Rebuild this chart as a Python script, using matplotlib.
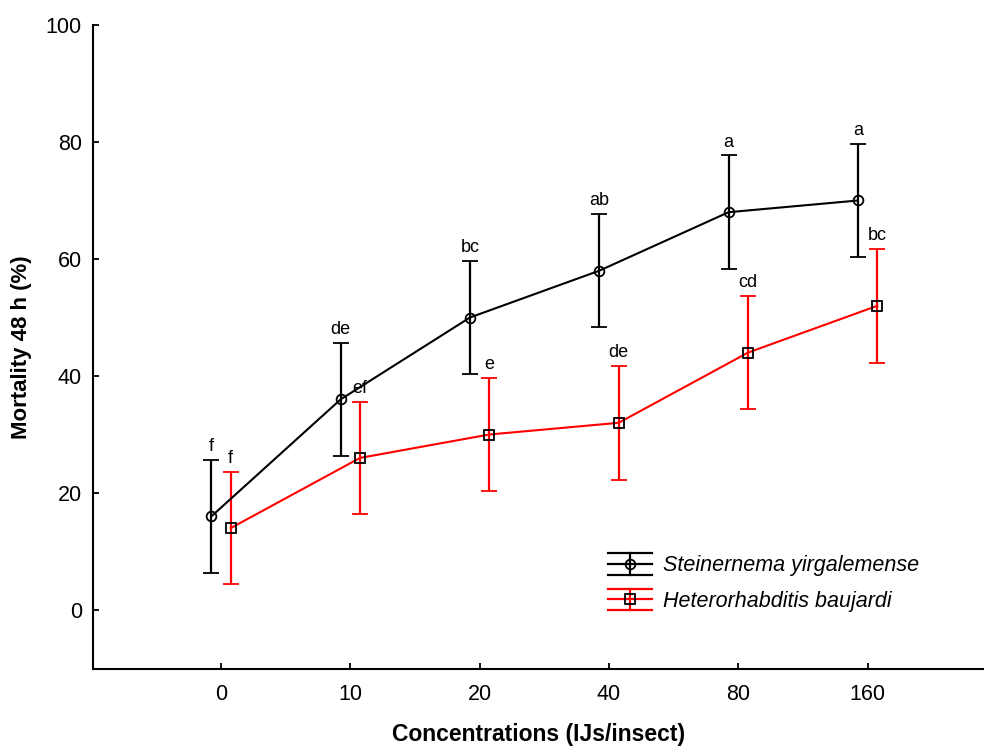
import matplotlib
matplotlib.use("Agg")
import matplotlib.pyplot as plt
import numpy as np
from matplotlib.lines import Line2D
from matplotlib.legend_handler import HandlerBase
from matplotlib.container import ErrorbarContainer

plt.rcParams['font.family'] = ['Liberation Sans', 'DejaVu Sans']

# concentrations (IJs/insect) and mortality after 48 h
conc = ['0', '10', '20', '40', '80', '160']
steinernema = [16, 36, 50, 58, 68, 70]
steinernema_err = [9.6, 9.6, 9.7, 9.7, 9.7, 9.7]
steinernema_grp = ['f', 'de', 'bc', 'ab', 'a', 'a']
heterorhabditis = [14, 26, 30, 32, 44, 52]
heterorhabditis_err = [9.6, 9.6, 9.7, 9.7, 9.7, 9.7]
heterorhabditis_grp = ['f', 'ef', 'e', 'de', 'cd', 'bc']


class ErrHandler(HandlerBase):
    # legend key drawn as a wide error bar: three bars, a stem and the marker
    def create_artists(self, legend, orig_handle, xdescent, ydescent,
                       width, height, fontsize, trans):
        line = orig_handle[0]
        col = line.get_color()
        x0, x1 = -xdescent, width - xdescent
        y0, y1 = -ydescent, height - ydescent
        xm, ym = (x0 + x1) / 2, (y0 + y1) / 2
        arts = []
        for yy in (y0, ym, y1):
            arts.append(Line2D([x0, x1], [yy, yy], color=col, lw=1.6))
        arts.append(Line2D([xm, xm], [y0, y1], color=col, lw=1.6))
        arts.append(Line2D([xm], [ym], marker=line.get_marker(), ms=line.get_markersize(),
                           mfc='none', mec='black', mew=1.3, ls='none'))
        for a in arts:
            a.set_transform(trans)
        return arts


fig = plt.figure(figsize=(9.84, 7.48), dpi=100)
ax = fig.add_axes([93 / 984, 79.5 / 748, (984 - 93) / 984, 643.5 / 748])

x = np.arange(len(conc))
off = 0.075

eb1 = ax.errorbar(x - off, steinernema, yerr=steinernema_err, color='black', lw=1.5,
                  elinewidth=1.6, capsize=5.5, capthick=1.6, marker='o', ms=7,
                  mfc='none', mec='black', mew=1.3, label='Steinernema yirgalemense')
eb2 = ax.errorbar(x + off, heterorhabditis, yerr=heterorhabditis_err, color='red', lw=1.5,
                  elinewidth=1.6, capsize=5.5, capthick=1.6, marker='s', ms=7,
                  mfc='none', mec='black', mew=1.3, label='Heterorhabditis baujardi')

for xi, v, e, g in zip(x, steinernema, steinernema_err, steinernema_grp):
    ax.annotate(g, (xi - off, v + e), xytext=(0, 3.5), textcoords='offset points',
                ha='center', va='bottom', fontsize=13)
for xi, v, e, g in zip(x, heterorhabditis, heterorhabditis_err, heterorhabditis_grp):
    ax.annotate(g, (xi + off, v + e), xytext=(0, 3.5), textcoords='offset points',
                ha='center', va='bottom', fontsize=13)

ax.set_xlim(-0.99, 5.9)
ax.set_ylim(-10, 100)
ax.set_xticks(x)
ax.set_xticklabels(conc)
ax.set_yticks(np.arange(0, 101, 20))
ax.tick_params(direction='in', length=4, width=1.3, labelsize=15.5)
ax.tick_params(axis='y', pad=8)
ax.tick_params(axis='x', pad=11)
for s in ('top', 'right'):
    ax.spines[s].set_visible(False)
for s in ('left', 'bottom'):
    ax.spines[s].set_linewidth(1.5)

ax.set_xlabel('Concentrations (IJs/insect)', fontsize=16.5, fontweight='bold', labelpad=13)
ax.set_ylabel('Mortality 48 h (%)', fontsize=16, fontweight='bold', labelpad=10)

leg = ax.legend(handles=[eb1, eb2], handler_map={ErrorbarContainer: ErrHandler()},
                loc='upper left', bbox_to_anchor=(608 / 984, 1 - 553 / 748),
                bbox_transform=fig.transFigure, frameon=False, borderpad=0,
                borderaxespad=0, handlelength=2.05, handleheight=1.16,
                handletextpad=0.5, labelspacing=0.58, prop={'size': 15.5, 'style': 'italic'})

fig.savefig('out.png', dpi=100)
